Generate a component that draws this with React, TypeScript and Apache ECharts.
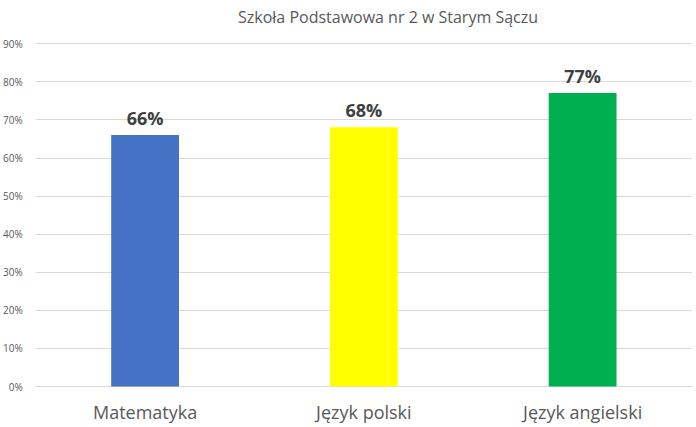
import React, { useEffect, useRef } from "react";
import * as echarts from "echarts";

const categories = ["Matematyka", "Język polski", "Język angielski"];
const values = [66, 68, 77];
const barColors = ["#4472C4", "#FFFF00", "#00B050"];
const titleText = "Szkoła Podstawowa nr 2 w Starym Sączu";

export default function App() {
  const ref = useRef<HTMLDivElement>(null);
  useEffect(() => {
    const chart = echarts.init(ref.current!, null, { renderer: "svg" });
    chart.setOption({
      animation: false,
      backgroundColor: "#ffffff",
      title: {
        text: titleText,
        left: 383,
        top: 4,
        textAlign: "center",
        textStyle: { fontFamily: "Open Sans", fontSize: 16, fontWeight: "normal", color: "#595959" },
      },
      grid: { left: 35, right: 4, top: 43.5, bottom: 40.5, containLabel: false },
      xAxis: {
        type: "category",
        data: categories,
        axisLine: { show: true, lineStyle: { color: "#d9d9d9" } },
        axisTick: { show: false },
        axisLabel: { fontFamily: "Open Sans", fontSize: 18, color: "#595959", margin: 16 },
      },
      yAxis: {
        type: "value",
        min: 0,
        max: 90,
        interval: 10,
        axisLine: { show: false },
        axisTick: { show: false },
        splitLine: { lineStyle: { color: "#d9d9d9", width: 1 } },
        axisLabel: {
          fontFamily: "Open Sans",
          fontSize: 10,
          color: "#595959",
          margin: 13,
          formatter: (v: number) => v + "%",
        },
      },
      series: [
        {
          type: "bar",
          barWidth: "31%",
          data: values.map((v, i) => ({ value: v, itemStyle: { color: barColors[i] } })),
          label: {
            show: true,
            position: "top",
            distance: 8,
            formatter: (p: any) => p.value + "%",
            fontFamily: "Open Sans",
            fontSize: 18,
            fontWeight: "bold",
            color: "#404040",
          },
        },
      ],
    });
    return () => chart.dispose();
  }, []);
  return <div ref={ref} style={{ width: 696, height: 427, position: "absolute", left: 0, top: 0 }} />;
}
